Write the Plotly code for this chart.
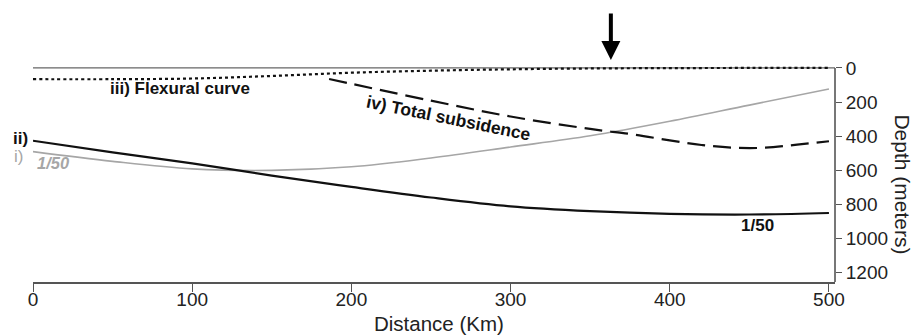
import plotly.graph_objects as go

# ---- data ----
km = [0, 50, 100, 150, 200, 250, 300, 350, 400, 450, 500]
depth_ii = [427, 495, 560, 632, 698, 760, 812, 840, 856, 860, 851]      # black solid
depth_i = [491, 548, 592, 601, 580, 528, 464, 398, 313, 218, 124]       # gray solid
depth_iii = [66, 66, 62, 47, 28, 16, 8, 3, 1, 0, 0]                     # dotted flexural
km_iv = [186, 200, 250, 300, 350, 377, 400, 420, 440, 460, 480, 500]
depth_iv = [65, 93, 192, 285, 358, 390, 425, 452, 468, 468, 450, 430]   # dashed total subsidence

x_ticks = [0, 100, 200, 300, 400, 500]
y_ticks = [0, 200, 400, 600, 800, 1000, 1200]
arrow_km = 363

FONT = "Arial, 'Liberation Sans', Helvetica, sans-serif"
AX = "#555555"

fig = go.Figure()

fig.add_trace(go.Scatter(x=km, y=depth_i, mode="lines", line=dict(color="#a6a6a6", width=1.6, shape="spline"),
                         hoverinfo="skip"))
fig.add_trace(go.Scatter(x=km, y=depth_ii, mode="lines", line=dict(color="#111111", width=2.2, shape="spline"),
                         hoverinfo="skip"))
fig.add_trace(go.Scatter(x=km_iv, y=depth_iv, mode="lines",
                         line=dict(color="#111111", width=2.2, dash="18px,8px", shape="spline"), hoverinfo="skip"))
fig.add_trace(go.Scatter(x=km, y=depth_iii, mode="lines",
                         line=dict(color="#111111", width=2.2, dash="3px,3px", shape="spline"), hoverinfo="skip"))

# sea level line and right axis line
fig.add_shape(type="line", xref="paper", yref="y", x0=0, x1=1, y0=0, y1=0,
              line=dict(color="#666666", width=1.3), layer="below")
fig.add_shape(type="line", xref="paper", yref="y", x0=1, x1=1, y0=0, y1=1256,
              line=dict(color=AX, width=1.6))

ann = []
def txt(t, x, y, size=17, color="#111111", angle=0, xref="x", yref="y"):
    ann.append(dict(text=t, x=x, y=y, xref=xref, yref=yref, showarrow=False, textangle=angle,
                    font=dict(family=FONT, size=size, color=color), xanchor="center", yanchor="middle"))

txt("<b>iii) Flexural curve</b>", 92.3, 123, size=17)
txt("<b>iv) Total subsidence</b>", 260.7, 295, size=17.5, angle=11.5)
txt("<b>ii)</b>", -0.0162, 0.594, size=17, xref="paper", yref="paper")
txt("i)", -0.0175, 0.517, size=17, color="#a6a6a6", xref="paper", yref="paper")
txt("<b><i>1/50</i></b>", 12.9, 560, size=16.5, color="#a6a6a6")
txt("<b>1/50</b>", 454.8, 927, size=17)
txt("Distance (Km)", 0.506, -0.172, size=20.5, color="#222222", xref="paper", yref="paper")
txt("Depth (meters)", 1.083, 0.405, size=21, color="#222222", angle=90, xref="paper", yref="paper")

ann.append(dict(x=arrow_km, y=-47, xref="x", yref="y", ax=0, ay=-48, text="", showarrow=True,
                arrowhead=2, arrowsize=0.95, arrowwidth=4, arrowcolor="#000000"))

fig.update_layout(
    width=914, height=336,
    margin=dict(l=33, r=79, t=40, b=54),
    paper_bgcolor="white", plot_bgcolor="white",
    showlegend=False,
    annotations=ann,
    xaxis=dict(range=[0, 503.8], tickvals=x_ticks, ticktext=[str(v) for v in x_ticks],
               showgrid=False, zeroline=False, showline=True, linecolor=AX, linewidth=1.6,
               ticks="outside", ticklen=8, tickwidth=1.4, tickcolor=AX, ticklabelstandoff=-9,
               tickfont=dict(family=FONT, size=19, color="#222222")),
    yaxis=dict(range=[1256, -164], tickvals=y_ticks, ticktext=[str(v) for v in y_ticks],
               side="right", showgrid=False, zeroline=False, showline=False,
               ticks="outside", ticklen=6, tickwidth=1.4, tickcolor=AX,
               tickfont=dict(family=FONT, size=19, color="#222222")),
)

fig.write_html("out.html")
